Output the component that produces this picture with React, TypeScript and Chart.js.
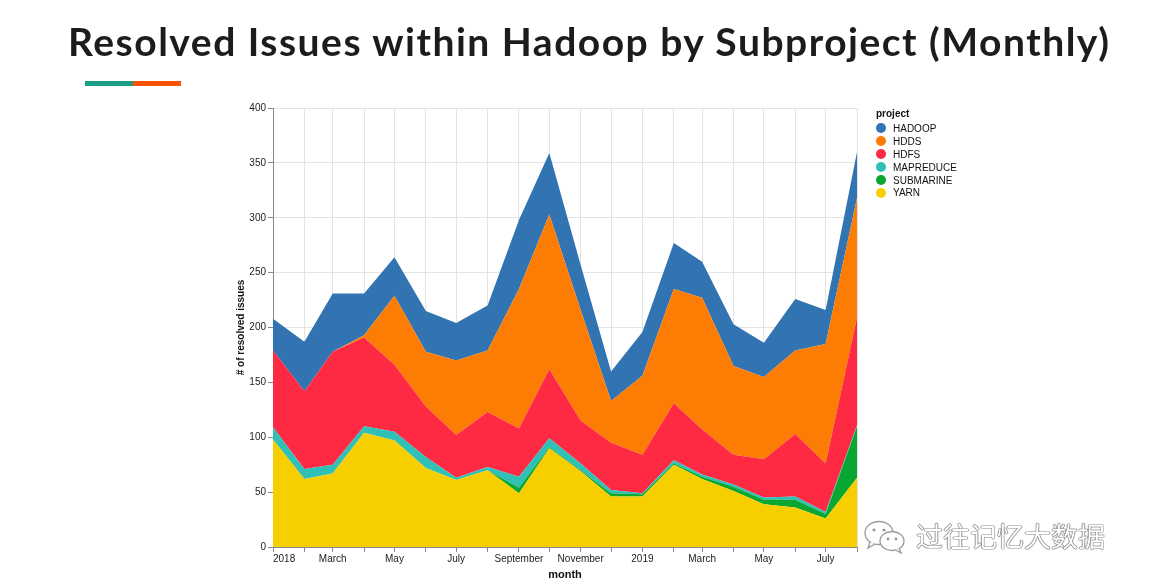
import React, { useEffect, useRef } from "react";
import Chart from "chart.js/auto";

// ---- data ----
const months = [
  "2018-01", "2018-02", "2018-03", "2018-04", "2018-05", "2018-06", "2018-07",
  "2018-08", "2018-09", "2018-10", "2018-11", "2018-12", "2019-01", "2019-02",
  "2019-03", "2019-04", "2019-05", "2019-06", "2019-07", "2019-08",
];
const xTickLabels = [
  "2018", "", "March", "", "May", "", "July", "", "September", "", "November", "",
  "2019", "", "March", "", "May", "", "July", "",
];
const yarn = [98, 62, 67, 104, 97, 72, 61, 70, 49, 90, 69, 46, 46, 75, 62, 51, 39, 36, 26, 63];
const submarine = [0, 0, 0, 0, 0, 0, 0, 0, 5, 1, 1, 3, 2, 1, 2, 4, 4, 7, 4, 47];
const mapreduce = [11, 9, 8, 6, 8, 10, 2, 3, 10, 8, 6, 3, 1, 3, 2, 2, 2, 3, 2, 1];
const hdfs = [70, 71, 103, 81, 61, 46, 39, 50, 44, 63, 39, 43, 35, 52, 41, 27, 35, 57, 44, 98];
const hdds = [0, 0, 0, 2, 63, 50, 68, 56, 127, 141, 101, 38, 72, 104, 120, 81, 75, 76, 109, 109];
const hadoop = [29, 45, 53, 38, 35, 37, 34, 41, 63, 56, 41, 27, 40, 42, 33, 38, 31, 47, 31, 42];

const seriesNames = ["HADOOP", "HDDS", "HDFS", "MAPREDUCE", "SUBMARINE", "YARN"];
const seriesColors = ["#3174b1", "#fd7c03", "#fe2a43", "#2fc1b6", "#09a732", "#f7cf00"];
const seriesValues = [hadoop, hdds, hdfs, mapreduce, submarine, yarn];

const yTicks = [0, 50, 100, 150, 200, 250, 300, 350, 400];

const FONT = "'Liberation Sans', Arial, Helvetica, sans-serif";

function dayOffset(m: string): number {
  const [y, mo] = m.split("-").map(Number);
  const [y0, m0] = months[0].split("-").map(Number);
  return (Date.UTC(y, mo - 1, 1) - Date.UTC(y0, m0 - 1, 1)) / 86400000;
}

export default function App() {
  const ref = useRef<HTMLCanvasElement>(null);

  useEffect(() => {
    const days = months.map(dayOffset);
    // stack bottom -> top: YARN first
    const order = [5, 4, 3, 2, 1, 0];
    const datasets = order.map((si, k) => ({
      label: seriesNames[si],
      data: seriesValues[si].map((v, i) => ({ x: days[i], y: v })),
      backgroundColor: seriesColors[si],
      borderColor: seriesColors[si],
      borderWidth: 0,
      pointRadius: 0,
      tension: 0,
      fill: k === 0 ? "origin" : "-1",
    }));

    const chart = new Chart(ref.current!, {
      type: "line",
      data: { datasets },
      options: {
        animation: false,
        responsive: false,
        maintainAspectRatio: false,
        layout: { padding: { left: 230, top: 108, right: 292, bottom: 6 } },
        plugins: {
          legend: { display: false },
          tooltip: { enabled: false },
          title: { display: false },
        },
        scales: {
          x: {
            type: "linear",
            min: days[0],
            max: days[days.length - 1],
            afterBuildTicks: (axis: any) => {
              axis.ticks = days.map((d) => ({ value: d }));
            },
            afterFit: (axis: any) => {
              axis.height = 588 - 6 - 547;
            },
            ticks: {
              autoSkip: false,
              maxRotation: 0,
              minRotation: 0,
              align: "inner",
              padding: 1,
              color: "#222",
              font: { family: FONT, size: 10 },
              callback: (_v: any, i: number) => xTickLabels[i],
            },
            grid: {
              color: "#e3e3e3",
              tickColor: "#888",
              tickLength: 5,
              drawTicks: true,
            },
            border: { color: "#888", width: 1 },
            title: {
              display: true,
              text: "month",
              color: "#111",
              font: { family: FONT, size: 11, weight: "bold" },
              padding: { top: 2, bottom: 0 },
            },
          },
          y: {
            type: "linear",
            stacked: true,
            min: 0,
            max: 400,
            afterBuildTicks: (axis: any) => {
              axis.ticks = yTicks.map((v) => ({ value: v }));
            },
            afterFit: (axis: any) => {
              axis.width = 273 - 230;
            },
            ticks: {
              padding: 2,
              color: "#222",
              font: { family: FONT, size: 10 },
            },
            grid: {
              color: "#e3e3e3",
              tickColor: "#888",
              tickLength: 5,
              drawTicks: true,
            },
            border: { color: "#888", width: 1 },
            title: {
              display: true,
              text: "# of resolved issues",
              color: "#111",
              font: { family: FONT, size: 10, weight: "bold" },
              padding: { top: 5, bottom: 0 },
            },
          },
        },
      } as any,
    });
    return () => chart.destroy();
  }, []);

  return (
    <div
      style={{
        position: "absolute",
        left: 0,
        top: 0,
        width: 1149,
        height: 588,
        background: "#fff",
        overflow: "hidden",
      }}
    >
      <canvas
        ref={ref}
        width={1149}
        height={588}
        style={{ position: "absolute", left: 0, top: 0, width: 1149, height: 588 }}
      />
      <div
        style={{
          position: "absolute",
          left: 68,
          top: 22,
          fontFamily: "Lato, 'Open Sans', sans-serif",
          fontWeight: 700,
          fontSize: 39,
          lineHeight: "1",
          letterSpacing: "1.5px",
          color: "#1c1c1c",
          whiteSpace: "nowrap",
        }}
      >
        Resolved Issues within Hadoop by Subproject (Monthly)
      </div>
      <div style={{ position: "absolute", left: 85, top: 81, width: 48, height: 5, background: "#1b9e87" }} />
      <div style={{ position: "absolute", left: 133, top: 81, width: 48, height: 5, background: "#fd5104" }} />
      <div
        style={{
          position: "absolute",
          left: 876,
          top: 107,
          fontFamily: FONT,
          fontSize: 10,
          color: "#111",
        }}
      >
        <div style={{ fontWeight: 700, height: 15, lineHeight: "13px" }}>project</div>
        {seriesNames.map((n, i) => (
          <div key={n} style={{ display: "flex", alignItems: "center", height: 12.9 }}>
            <span
              style={{
                display: "inline-block",
                width: 10,
                height: 10,
                borderRadius: 5,
                background: seriesColors[i],
                marginRight: 7,
              }}
            />
            <span>{n}</span>
          </div>
        ))}
      </div>
      <svg
        width={46}
        height={36}
        style={{ position: "absolute", left: 862, top: 519 }}
        viewBox="0 0 46 36"
      >
        <ellipse cx={17} cy={14} rx={14} ry={11.5} fill="#fff" stroke="#999" strokeWidth={1.3} />
        <path d="M8 23 L6 29 L13 25" fill="#fff" stroke="#999" strokeWidth={1.3} />
        <circle cx={12} cy={11} r={1.6} fill="#999" />
        <circle cx={22} cy={11} r={1.6} fill="#999" />
        <ellipse cx={30} cy={22} rx={12} ry={9.5} fill="#fff" stroke="#999" strokeWidth={1.3} />
        <path d="M37 29 L39 34 L33 30.5" fill="#fff" stroke="#999" strokeWidth={1.3} />
        <circle cx={26} cy={20} r={1.4} fill="#999" />
        <circle cx={34} cy={20} r={1.4} fill="#999" />
      </svg>
      <div
        style={{
          position: "absolute",
          left: 916,
          top: 520,
          fontFamily: "'Noto Sans CJK SC', sans-serif",
          fontSize: 27,
          lineHeight: "32px",
          color: "#fff",
          textShadow: "0 0 1px #555, 0 0 1px #555, 0 0 1px #555, 0 0 1px #555",
          whiteSpace: "nowrap",
        }}
      >
        过往记忆大数据
      </div>
    </div>
  );
}
